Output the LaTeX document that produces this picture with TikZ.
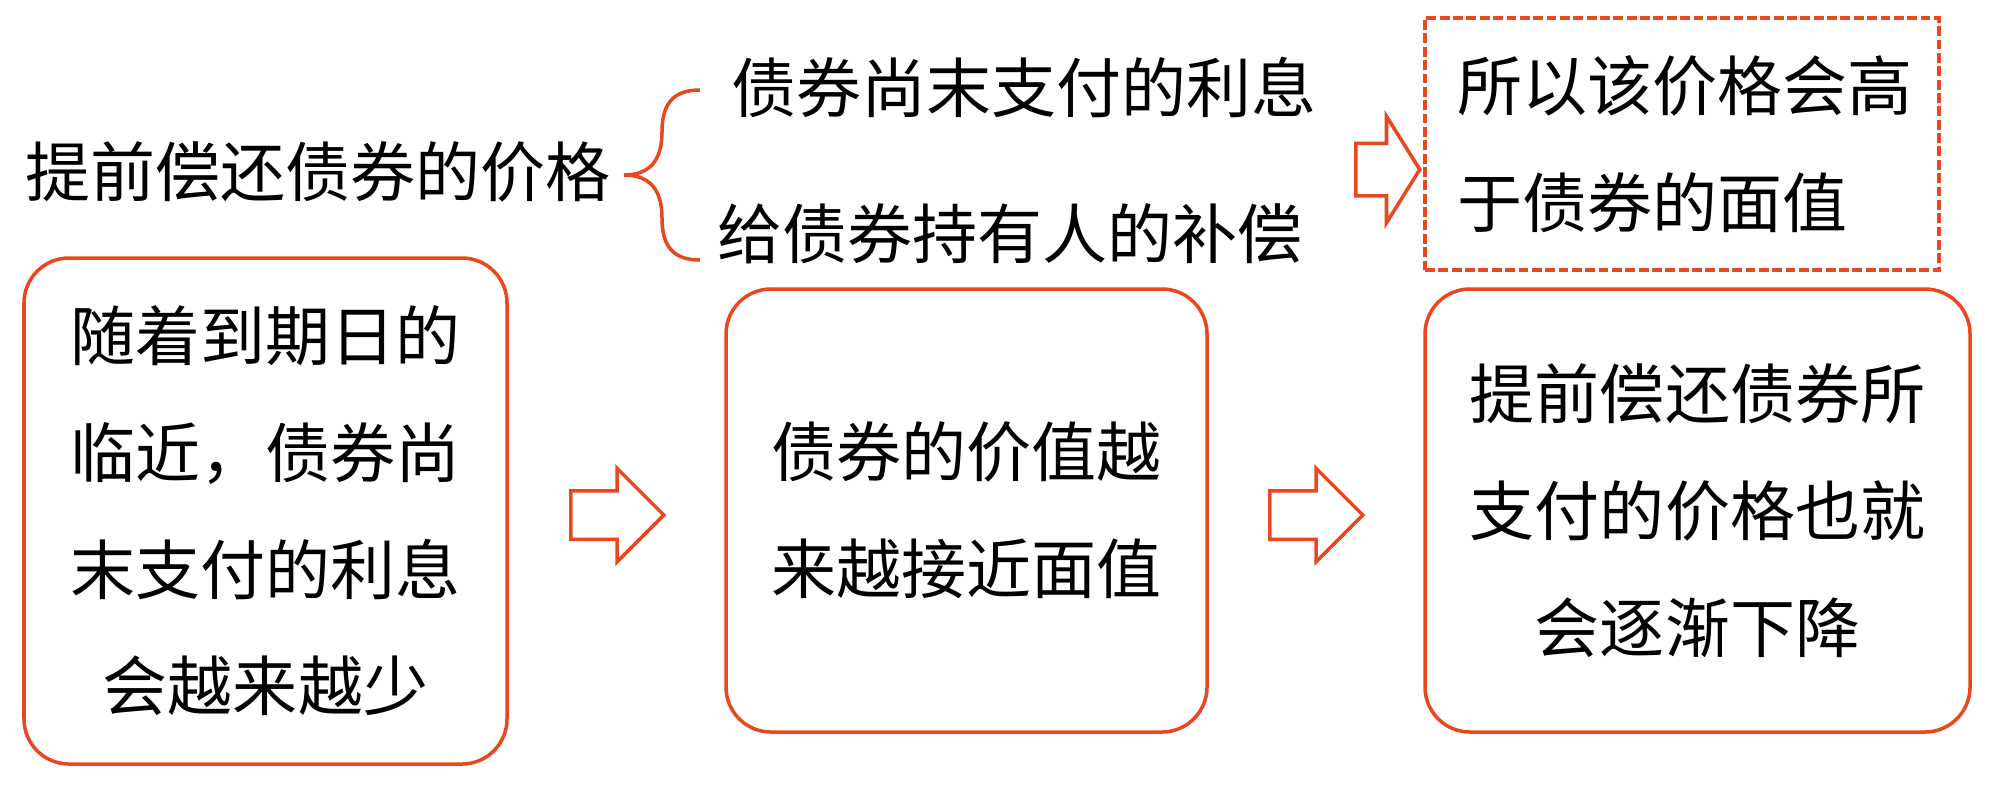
\documentclass[tikz,border=0pt]{standalone}
\usepackage{fontspec}
\setmainfont{Noto Sans CJK SC}
\usetikzlibrary{shapes.arrows}
\definecolor{bondorange}{RGB}{233,72,30}

\begin{document}
\begin{tikzpicture}[x=1cm, y=1cm,
  every node/.style = {align=center, inner sep=0pt,
    font=\fontsize{18.5pt}{33.2pt}\selectfont},
  roundbox/.style = {draw=bondorange, line width=1pt, rounded corners=0.45cm},
  dashbox/.style = {draw=bondorange, line width=1pt, dash pattern=on 2.8pt off 1pt},
  fatarrow/.style = {single arrow, draw=bondorange, line width=1pt,
    anchor=tail, inner xsep=0pt, single arrow tip angle=90}]
  \useasboundingbox (0,0) rectangle (20.07,-7.84);
  % top row: price and its two parts
  \node[anchor=west] (price) at (0.25,-1.72) {提前偿还债券的价格};
  \draw[bondorange, line width=1pt] (7.00,-0.90)
    .. controls (6.72,-0.90) and (6.62,-1.05) .. (6.62,-1.32)
    .. controls (6.62,-1.60) and (6.50,-1.75) .. (6.24,-1.75)
    .. controls (6.50,-1.75) and (6.62,-1.90) .. (6.62,-2.18)
    .. controls (6.62,-2.45) and (6.72,-2.60) .. (7.00,-2.60);
  \node[anchor=west] (unpaid) at (7.31,-0.88) {债券尚末支付的利息};
  \node[anchor=west] (comp) at (7.17,-2.34) {给债券持有人的补偿};
  \node[fatarrow, minimum height=0.64cm, inner ysep=0.245cm,
    single arrow head extend=0.27cm, single arrow tip angle=116] (toparrow) at (13.54,-1.695) {};
  \node[dashbox, text width=4.5cm, align=left, inner xsep=0.32cm,
    minimum height=2.52cm] (higher) at (16.82,-1.44) {所以该价格会高\\于债券的面值};
  % bottom row: three boxes
  \node[roundbox, minimum width=4.83cm, minimum height=5.06cm] (near) at (2.655,-5.11)
    {随着到期日的\\临近，债券尚\\末支付的利息\\会越来越少};
  \node[roundbox, minimum width=4.81cm, minimum height=4.43cm] (value) at (9.665,-5.105)
    {债券的价值越\\来越接近面值};
  \node[roundbox, minimum width=5.45cm, minimum height=4.43cm] (fall) at (16.975,-5.105)
    {提前偿还债券所\\支付的价格也就\\会逐渐下降};
  \node[fatarrow, minimum height=0.93cm, inner ysep=0.225cm,
    single arrow head extend=0.225cm] (arr1) at (5.69,-5.15) {};
  \node[fatarrow, minimum height=0.93cm, inner ysep=0.225cm,
    single arrow head extend=0.225cm] (arr2) at (12.68,-5.15) {};
\end{tikzpicture}
\end{document}
